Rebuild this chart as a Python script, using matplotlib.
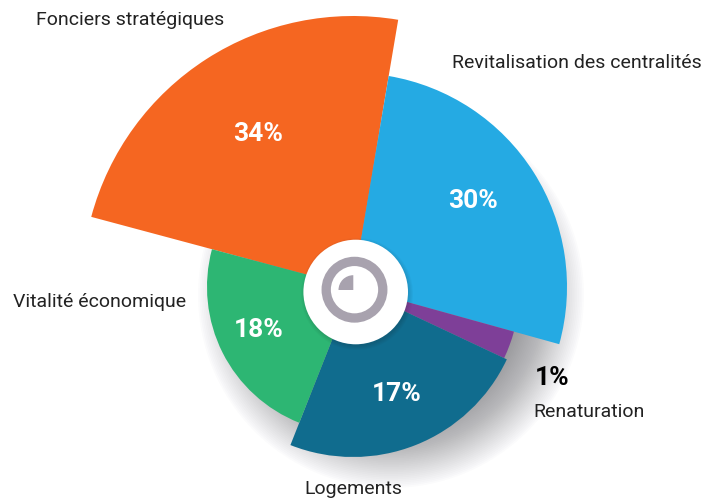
import numpy as np
import matplotlib
matplotlib.use("Agg")
import matplotlib.pyplot as plt
from matplotlib.patches import Circle, Wedge

W, H = 719, 499
categories = ["Fonciers stratégiques", "Revitalisation des centralités", "Renaturation", "Logements", "Vitalité économique"]
shares = [34, 30, 1, 17, 18]
start_deg = [-75, 9.6, 105.5, 115.2, 201.6]   # clockwise from north
span_deg = [84.6, 95.9, 9.7, 86.4, 83.4]
radius_px = [271, 214, 167, 170, 146]
colors = ["#F56621", "#25AAE3", "#7E3F98", "#106C8E", "#2DB673"]
cx, cy = 353, 287
RMAX = 300

plt.rcParams["font.family"] = ["Roboto", "DejaVu Sans"]
fig = plt.figure(figsize=(W / 100, H / 100), dpi=100, facecolor="white")

# shadow layer (pixel coordinates)
bg = fig.add_axes([0, 0, 1, 1], zorder=0)
bg.set_xlim(0, W); bg.set_ylim(H, 0); bg.axis("off")
for r in np.linspace(193, 125, 40):
    bg.add_patch(Circle((391, 295), r, fc="#3a3a40", ec="none", alpha=0.015))

# wedges in polar axes
pos = [(cx - RMAX) / W, 1 - (cy + RMAX) / H, 2 * RMAX / W, 2 * RMAX / H]
ax = fig.add_axes(pos, projection="polar", zorder=1)
ax.patch.set_alpha(0)
ax.set_theta_zero_location("N"); ax.set_theta_direction(-1)
ax.set_rlim(0, RMAX); ax.axis("off")
for s, d, r, c in zip(start_deg, span_deg, radius_px, colors):
    ax.bar(np.deg2rad(s + d / 2), r, width=np.deg2rad(d), bottom=0, color=c, linewidth=0, clip_on=False)

# overlay
fg = fig.add_axes([0, 0, 1, 1], zorder=2)
fg.set_xlim(0, W); fg.set_ylim(H, 0); fg.axis("off"); fg.patch.set_alpha(0)
for r in np.linspace(56, 52, 5):
    fg.add_patch(Circle((357, 294), r, fc="#222", ec="none", alpha=0.03))
fg.add_patch(Circle((355.7, 292), 52.3, fc="white", ec="none"))
fg.add_patch(Circle((354.5, 289.7), 28.3, fc="none", ec="#A8A2AE", lw=6.7))
fg.add_patch(Wedge((353.3, 290), 14.8, 180, 270, fc="#A8A2AE", ec="none"))

pct_xy = [(258, 134), (473, 201), (552, 378), (397, 394), (259, 330)]
name_xy = [(130.5, 20), (577, 63), (589, 412), (353, 489), (99.5, 302)]
for i, (n, v) in enumerate(zip(categories, shares)):
    fg.text(*pct_xy[i], f"{v}%", color="black" if i == 2 else "white", fontsize=19, fontweight="bold",
            ha="center", va="center")
    fg.text(*name_xy[i], n, color="#222222", fontsize=14, ha="center", va="center")

fig.savefig("out.png", dpi=100, facecolor="white")
